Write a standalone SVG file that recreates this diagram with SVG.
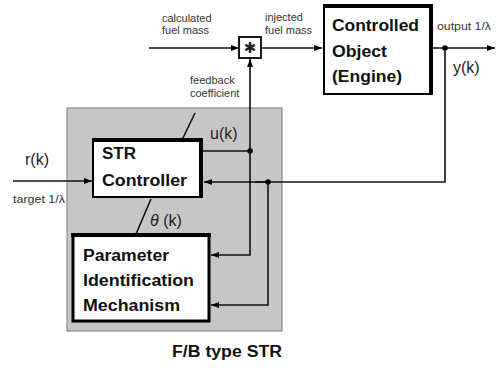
<svg xmlns="http://www.w3.org/2000/svg" width="498" height="370" viewBox="0 0 498 370">
<style>
.ln{fill:none;stroke:#111;stroke-width:1.6}
.box{fill:#fff;stroke:#000;stroke-width:2}
.thk{stroke:#000;stroke-width:4;fill:none}
.big{font-family:"Liberation Sans",Arial,sans-serif;font-weight:bold;font-size:16px;fill:#111}
.sm{font-family:"Liberation Sans",Arial,sans-serif;font-size:11px;fill:#333}
.md{font-family:"Liberation Sans",Arial,sans-serif;font-size:16px;fill:#222}
.dot{fill:#000}
</style>
<defs>
<marker id="ah" viewBox="0 0 8 6" refX="8" refY="3" markerWidth="8" markerHeight="6" markerUnits="userSpaceOnUse" orient="auto">
<path d="M0,0 L8,3 L0,6 z" fill="#000"/>
</marker>
</defs>
<rect x="67" y="108" width="215" height="223" fill="#c6c6c6" stroke="#8a8a8a" stroke-width="1.2"/>
<g id="connectors">
<line class="ln" x1="149" y1="48" x2="239" y2="48" marker-end="url(#ah)"/>
<line class="ln" x1="261" y1="48" x2="322" y2="48" marker-end="url(#ah)"/>
<line class="ln" x1="433" y1="48" x2="495" y2="48" marker-end="url(#ah)"/>
<circle class="dot" cx="445" cy="48" r="2.8"/>
<polyline class="ln" points="445,48 445,182 245,182"/>
<line class="ln" x1="255" y1="182" x2="268" y2="182"/>
<line class="ln" x1="245" y1="182" x2="204" y2="182" marker-end="url(#ah)"/>
<circle class="dot" cx="268" cy="182" r="2.8"/>
<polyline class="ln" points="268,182 268,305 211,305" marker-end="url(#ah)"/>
<line class="ln" x1="203" y1="151" x2="250" y2="151"/>
<line class="ln" x1="250" y1="151" x2="250" y2="59" marker-end="url(#ah)"/>
<circle class="dot" cx="250" cy="151" r="2.8"/>
<polyline class="ln" points="250,151 250,255 211,255" marker-end="url(#ah)"/>
<line class="ln" x1="13" y1="181" x2="92" y2="181" marker-end="url(#ah)"/>
<line class="ln" x1="151" y1="199" x2="136" y2="234"/>
<line class="ln" x1="182" y1="140" x2="195" y2="113"/>
</g>
<g id="mult">
<rect x="239" y="37" width="22" height="21" fill="#fff" stroke="#000" stroke-width="1.8"/>
<text x="250" y="53" text-anchor="middle" style="font-family:'DejaVu Sans',sans-serif;font-size:15px;font-weight:bold;fill:#222">✱</text>
</g>
<g id="plant">
<rect class="box" x="324" y="7" width="107" height="87"/>
<line class="thk" x1="323" y1="6" x2="433" y2="6"/>
<line class="thk" x1="431" y1="5" x2="431" y2="95"/>
<text class="big" x="332" y="31" textLength="87" lengthAdjust="spacingAndGlyphs">Controlled</text>
<text class="big" x="332" y="57" textLength="55" lengthAdjust="spacingAndGlyphs">Object</text>
<text class="big" x="332" y="82" textLength="70" lengthAdjust="spacingAndGlyphs">(Engine)</text>
</g>
<g id="str">
<rect class="box" x="93" y="140" width="108" height="57"/>
<line class="thk" x1="92" y1="140" x2="203" y2="140"/>
<line class="thk" x1="201" y1="138" x2="201" y2="198"/>
<text class="big" x="102" y="159" textLength="34" lengthAdjust="spacingAndGlyphs">STR</text>
<text class="big" x="102" y="186" textLength="85" lengthAdjust="spacingAndGlyphs">Controller</text>
</g>
<g id="pim">
<rect x="73" y="235" width="136" height="86" fill="#fff" stroke="#000" stroke-width="3"/>
<line class="thk" x1="71" y1="235" x2="211" y2="235"/>
<text class="big" x="83" y="261" textLength="86" lengthAdjust="spacingAndGlyphs">Parameter</text>
<text class="big" x="83" y="286" textLength="111" lengthAdjust="spacingAndGlyphs">Identification</text>
<text class="big" x="83" y="311" textLength="97" lengthAdjust="spacingAndGlyphs">Mechanism</text>
</g>
<g id="labels">
<text class="sm" x="162" y="22">calculated</text>
<text class="sm" x="162" y="34">fuel mass</text>
<text class="sm" x="265" y="21">injected</text>
<text class="sm" x="265" y="34">fuel mass</text>
<text class="sm" x="190" y="84">feedback</text>
<text class="sm" x="190" y="97">coefficient</text>
<text class="sm" x="437" y="30" textLength="54" lengthAdjust="spacingAndGlyphs">output 1/λ</text>
<text class="sm" x="13" y="203" textLength="52" lengthAdjust="spacingAndGlyphs">target 1/λ</text>
<text class="md" x="25" y="165">r(k)</text>
<text class="md" x="210" y="139">u(k)</text>
<text class="md" x="453" y="73">y(k)</text>
<text class="md" x="150" y="226"><tspan font-style="italic">θ</tspan> (k)</text>
<text class="big" x="172" y="357" font-size="17" textLength="110" lengthAdjust="spacingAndGlyphs">F/B type STR</text>
</g>
</svg>
